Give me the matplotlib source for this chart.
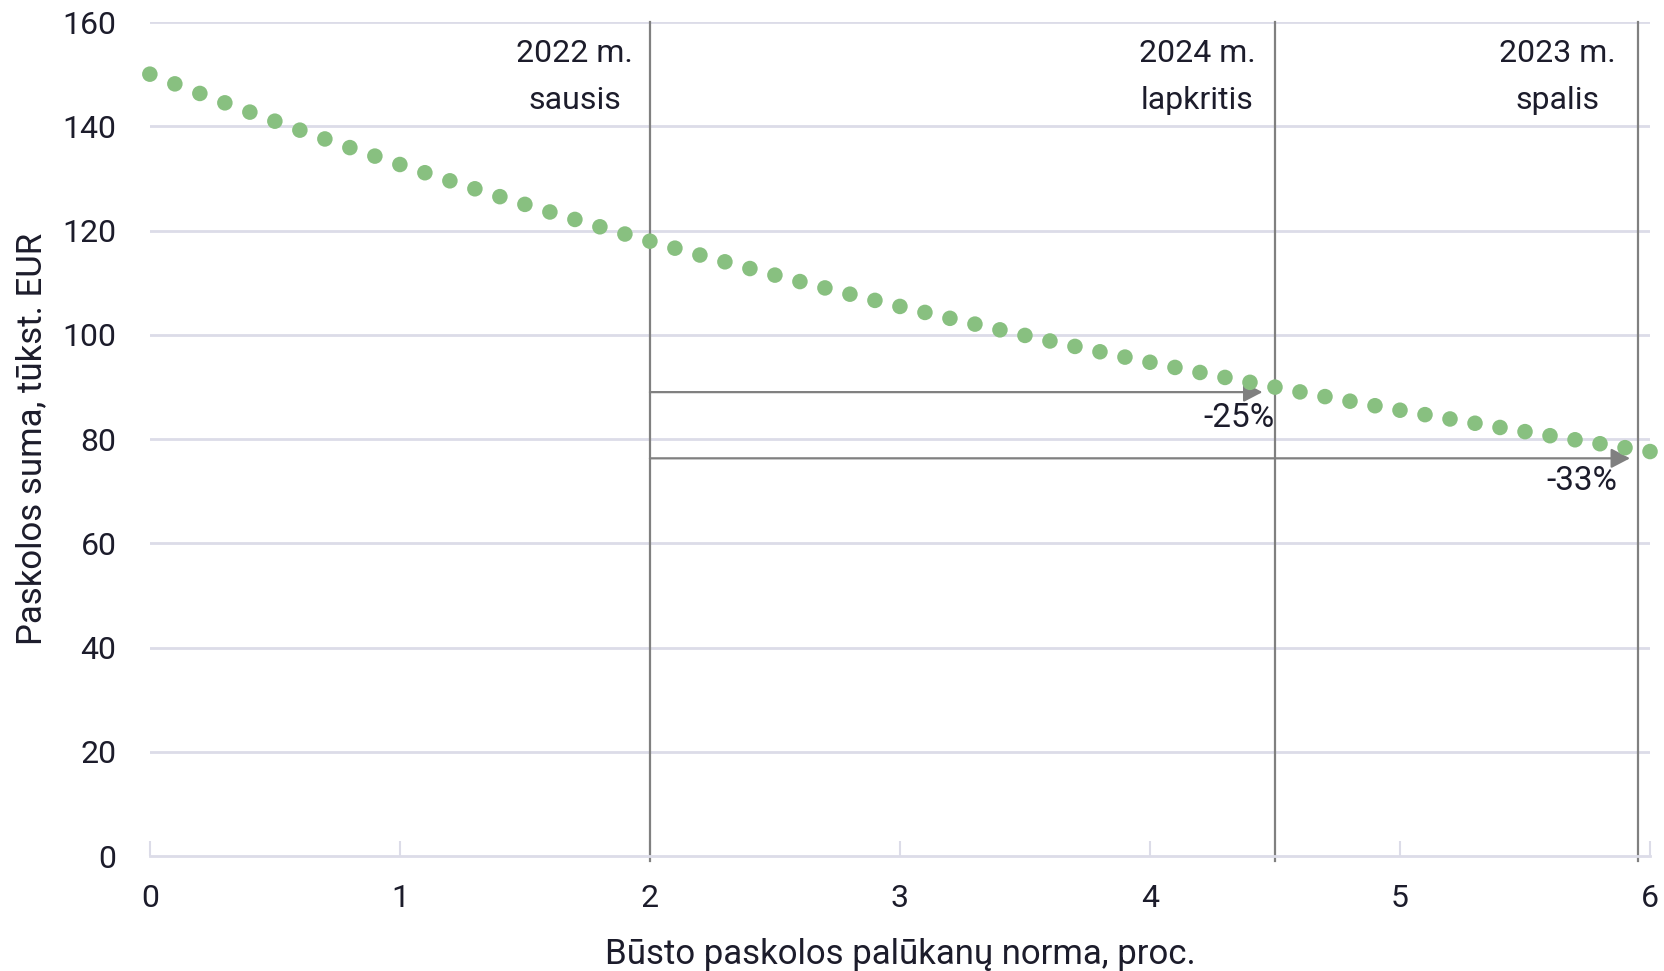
import numpy as np
import matplotlib.pyplot as plt

# palukanu norma, proc. ir paskolos suma, tukst. EUR
rate = [round(0.1 * k, 1) for k in range(61)]
loan = [150.00, 148.14, 146.30, 144.50, 142.72, 140.98, 139.26, 137.57, 135.91, 134.28,
        132.67, 131.09, 129.54, 128.01, 126.50, 125.02, 123.56, 122.13, 120.72, 119.33,
        117.96, 116.62, 115.30, 114.00, 112.71, 111.45, 110.21, 108.99, 107.79, 106.60,
        105.44, 104.29, 103.16, 102.05, 100.95, 99.88, 98.81, 97.77, 96.74, 95.72,
        94.73, 93.74, 92.77, 91.82, 90.88, 89.96, 89.04, 88.14, 87.26, 86.39,
        85.53, 84.68, 83.85, 83.03, 82.22, 81.42, 80.64, 79.86, 79.10, 78.34,
        77.60]

vlines = [2.0, 4.5, 5.95]
vlabels = ['2022 m.\nsausis', '2024 m.\nlapkritis', '2023 m.\nspalis']
vlabel_x = [1.70, 4.19, 5.63]

arrow_y = [89.0, 76.3]
arrow_end = [4.45, 5.92]
arrow_txt = ['-25%', '-33%']
arrow_txt_pos = [(4.50, 84.0), (5.87, 71.9)]

plt.rcParams['font.family'] = ['Roboto', 'DejaVu Sans']
txtc = '#1c1c2b'
gridc = '#dcdce8'
linec = '#808080'
fs = 23

fig = plt.figure(figsize=(16.65, 9.71), dpi=100)
ax = fig.add_axes([0.090, 0.1184, 0.901, 0.8589])

ax.set_xlim(0, 6)
ax.set_ylim(0, 160)
ax.set_yticks(np.arange(0, 161, 20))
ax.set_xticks(range(7))

for yv in np.arange(20, 161, 20):
    ax.axhline(yv, color=gridc, lw=2, zorder=1)

for sp in ['top', 'right', 'left']:
    ax.spines[sp].set_visible(False)
ax.spines['bottom'].set_color(gridc)
ax.spines['bottom'].set_linewidth(2)

ax.tick_params(axis='x', direction='in', length=11, width=1.5, color=gridc,
               labelsize=fs, labelcolor=txtc, pad=20)
ax.tick_params(axis='y', length=0, labelsize=fs, labelcolor=txtc, pad=24)

for xv, lab, lx in zip(vlines, vlabels, vlabel_x):
    ax.plot([xv, xv], [-1, 160], color=linec, lw=1.6, zorder=2, clip_on=False)
    ax.text(lx, 149.5, lab, ha='center', va='center', fontsize=fs, color=txtc,
            linespacing=1.8)

for yv, xe, t, (tx, ty) in zip(arrow_y, arrow_end, arrow_txt, arrow_txt_pos):
    ax.annotate('', xy=(xe, yv), xytext=(2.0, yv),
                arrowprops=dict(arrowstyle='-|>,head_length=1.15,head_width=0.6',
                                color=linec, lw=1.6, shrinkA=0, shrinkB=0),
                zorder=3)
    ax.text(tx, ty, t, ha='right', va='center', fontsize=fs + 1, color=txtc)

ax.scatter(rate, loan, s=125, color='#88c080', edgecolors='none', zorder=4,
           clip_on=False)

ax.set_xlabel('Būsto paskolos palūkanų norma, proc.', fontsize=fs + 2, color=txtc, labelpad=18)
ax.set_ylabel('Paskolos suma, tūkst. EUR', fontsize=fs + 2, color=txtc, labelpad=10)

fig.savefig('out.png', dpi=100)
